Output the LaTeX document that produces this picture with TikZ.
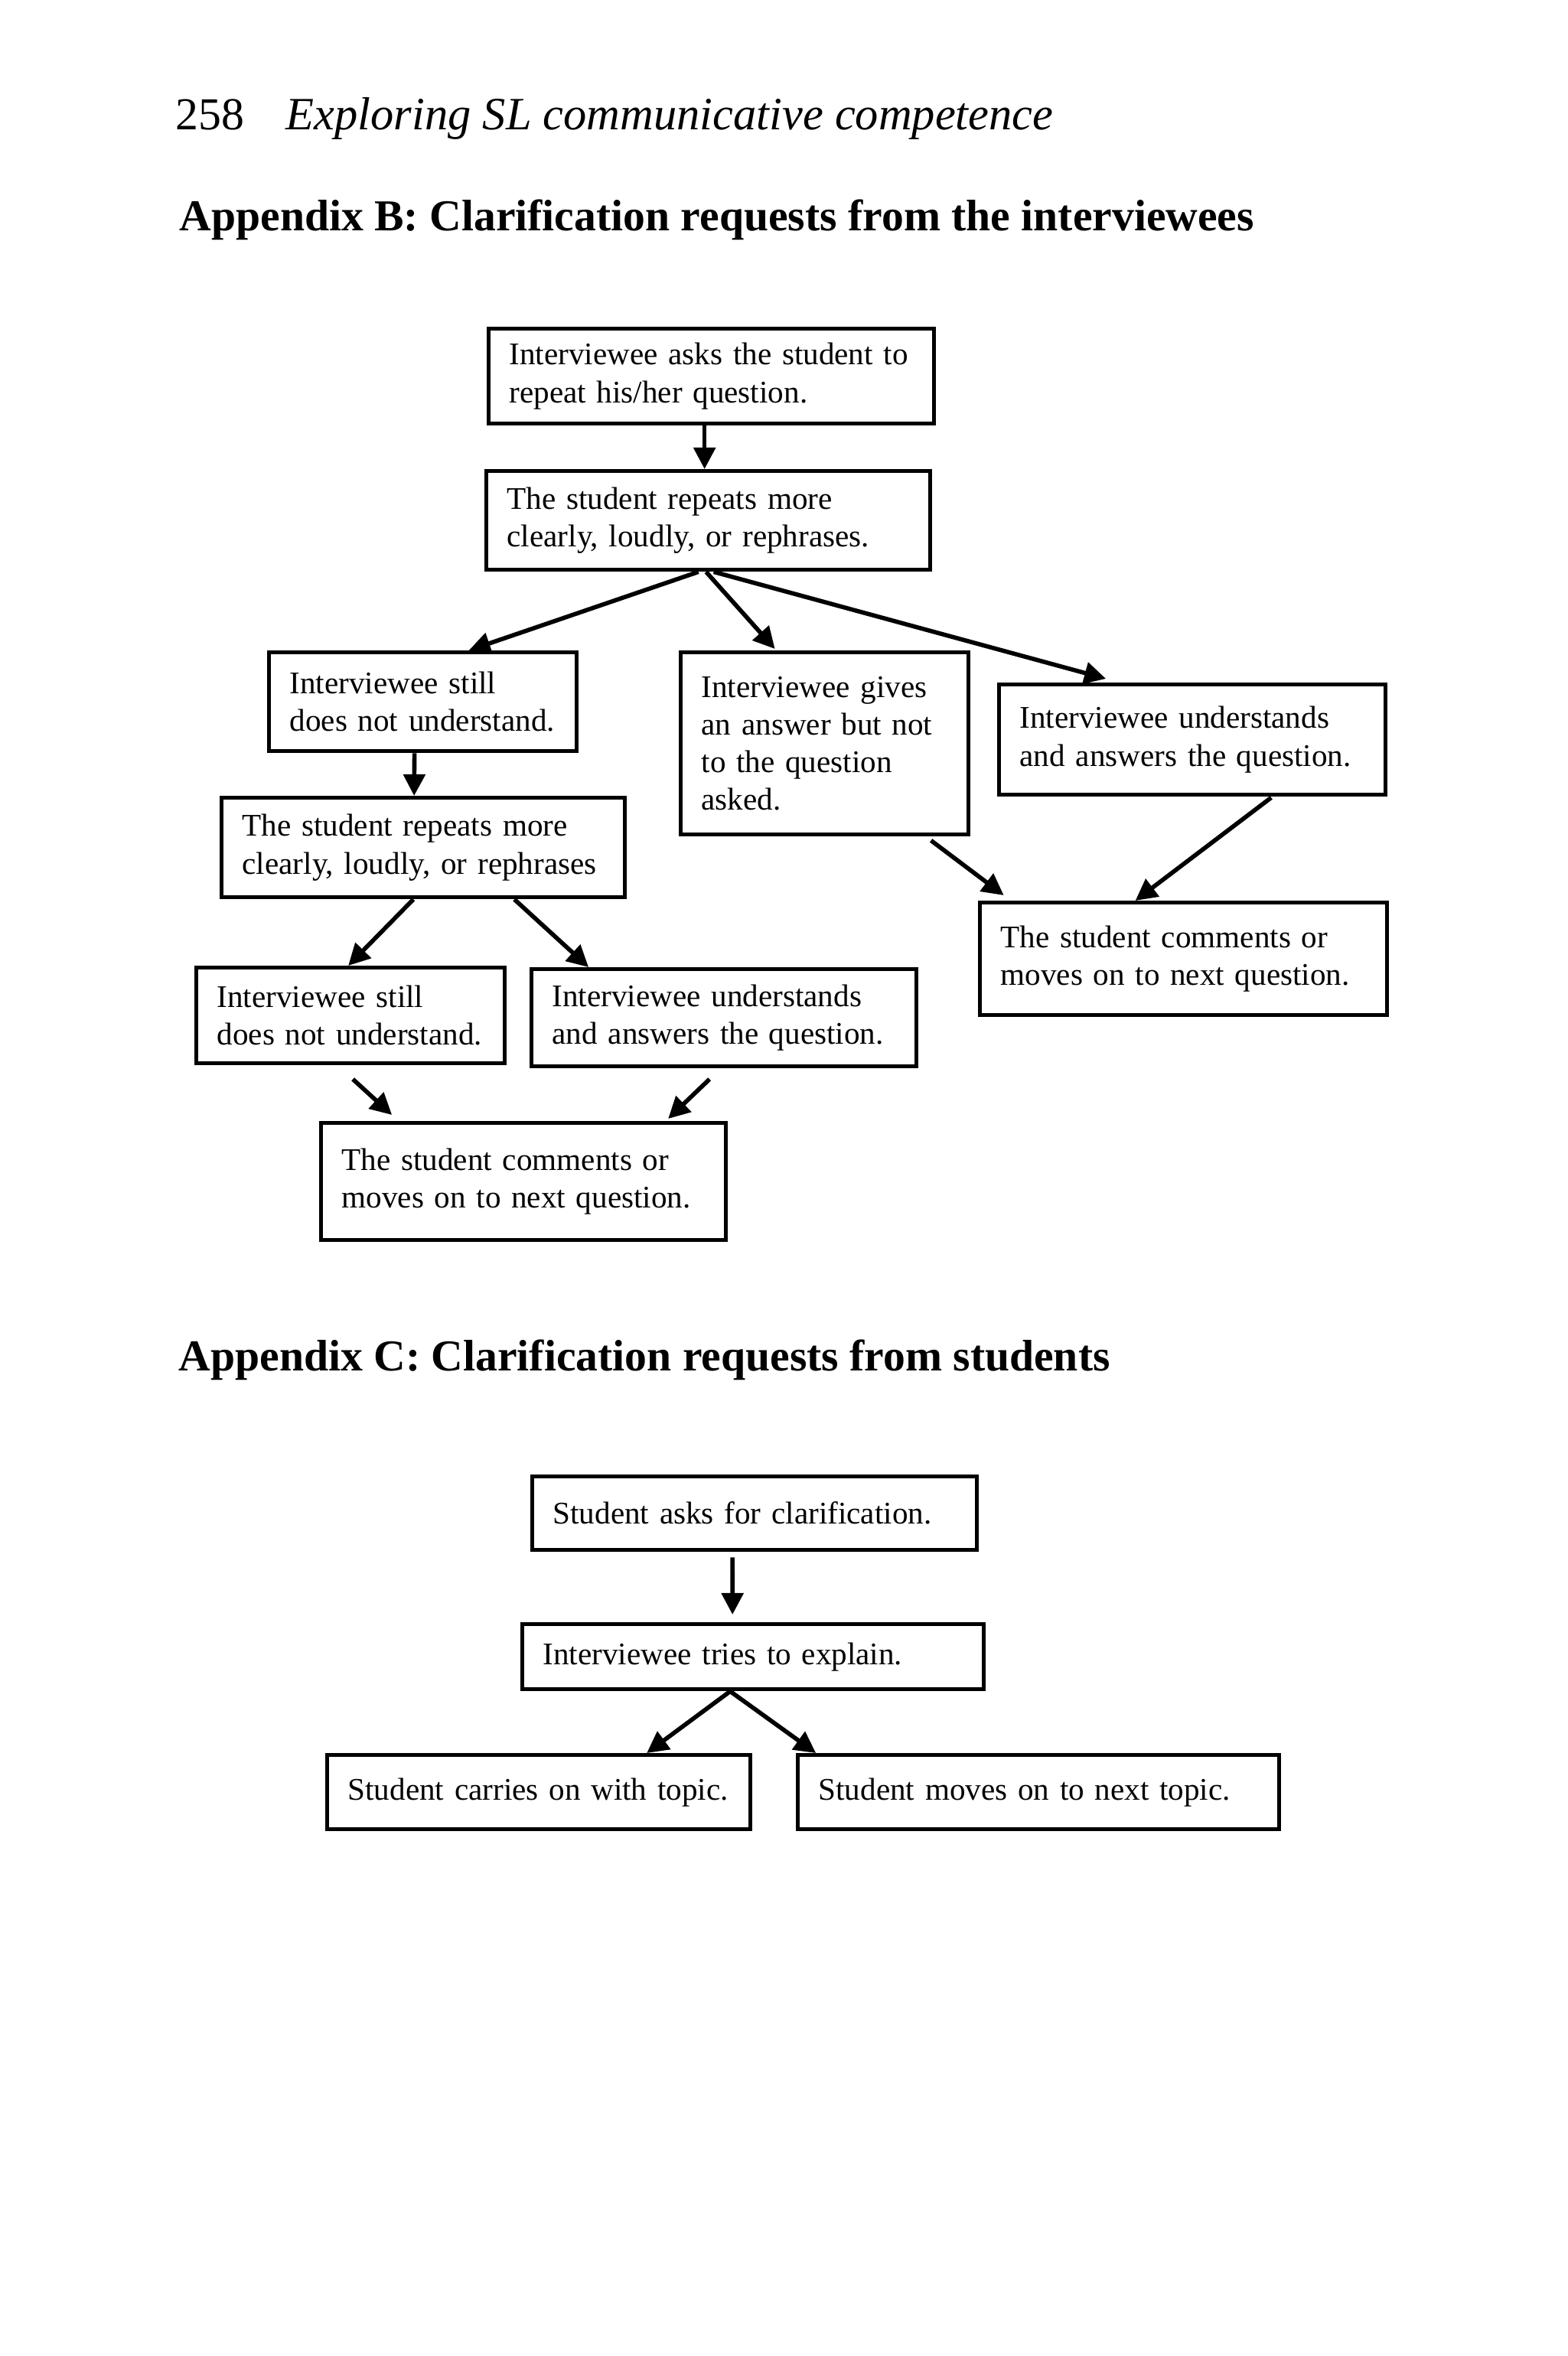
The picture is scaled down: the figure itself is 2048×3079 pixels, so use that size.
\documentclass[tikz,border=0pt]{standalone}
\usepackage{fontspec}
\setmainfont{Liberation Serif}
\usepackage{tikz}
\usetikzlibrary{arrows,arrows.meta,positioning}

\begin{document}
\begin{tikzpicture}[x=0.01cm, y=-0.01cm, >={Triangle[length=8pt, width=8pt]},
		box/.style={draw, line width=1.5pt, rectangle, anchor=north west, align=left,
			inner xsep=0.1cm, inner ysep=0pt, text width=#1cm-0.2cm-1.5pt,
			execute at begin node={\leftskip=0.17cm\hyphenpenalty=10000},
			font=\fontsize{11.7}{14}\selectfont},
		flow/.style={->, line width=1.6pt},
		head/.style={anchor=base west, inner sep=0pt}]
	\useasboundingbox (0,0) rectangle (2048,3079);
	% running head and titles
	\node[head, font=\fontsize{17}{20}\selectfont] (pagenum) at (229,170) {258};
	\node[head, font=\fontsize{17.2}{20}\selectfont\itshape] (runhead) at (373,170) {Exploring SL communicative competence};
	\node[head, font=\fontsize{16.4}{20}\selectfont\bfseries] (titleB) at (234,302) {Appendix B: Clarification requests from the interviewees};
	\node[head, font=\fontsize{16.4}{20}\selectfont\bfseries] (titleC) at (233,1791) {Appendix C: Clarification requests from students};

	% appendix B
	\node[box=5.87, minimum height=1.24cm] (asks) at (636,427) {Interviewee asks the student to\\repeat his/her question.};
	\node[box=5.85, minimum height=1.29cm] (repeats) at (633,613) {The student repeats more\\clearly, loudly, or rephrases.};
	\node[box=4.07, minimum height=1.29cm] (still) at (349,850) {Interviewee still\\does not understand.};
	\node[box=3.81, minimum height=2.38cm] (gives) at (887,850) {Interviewee gives\\an answer but not\\to the question\\asked.};
	\node[box=5.10, minimum height=1.44cm] (answers) at (1303,892) {Interviewee understands\\and answers the question.};
	\node[box=5.32, minimum height=1.30cm] (repeatsb) at (287,1040) {The student repeats more\\clearly, loudly, or rephrases};
	\node[box=5.37, minimum height=1.47cm] (comments) at (1278,1177) {The student comments or\\moves on to next question.};
	\node[box=4.08, minimum height=1.25cm] (stillb) at (254,1262) {Interviewee still\\does not understand.};
	\node[box=5.08, minimum height=1.27cm] (answersb) at (692,1264) {Interviewee understands\\and answers the question.};
	\node[box=5.34, minimum height=1.53cm] (commentsb) at (417,1465) {The student comments or\\moves on to next question.};

	\draw[flow] ([shift={(-9,0)}]asks.south) -- ([shift={(-5,0)}]repeats.north);
	\draw[flow] ([shift={(-13,0)}]repeats.south) -- ([shift={(60,0)}]still.north);
	\draw[flow] ([shift={(-3,0)}]repeats.south) -- ([shift={(-65,-2)}]gives.north);
	\draw[flow] ([shift={(7,0)}]repeats.south) -- ([shift={(-113,-5)}]answers.north);
	\draw[flow] ([shift={(-11,0)}]still.south) -- ([shift={(-12,0)}]repeatsb.north);
	\draw[flow] ([shift={(139,5)}]gives.south) -- ([shift={(-235,-7)}]comments.north);
	\draw[flow] ([shift={(103,1)}]answers.south) -- ([shift={(-63,0)}]comments.north);
	\draw[flow] ([shift={(-13,0)}]repeatsb.south) -- ([shift={(-3,0)}]stillb.north);
	\draw[flow] ([shift={(119,0)}]repeatsb.south) -- ([shift={(-177,0)}]answersb.north);
	\draw[flow] ([shift={(3,18)}]stillb.south) -- ([shift={(-172,-8)}]commentsb.north);
	\draw[flow] ([shift={(-19,14)}]answersb.south) -- ([shift={(189,-3)}]commentsb.north);

	% appendix C
	\node[box=5.86, minimum height=0.96cm] (clarify) at (693,1927) {Student asks for clarification.};
	\node[box=6.08, minimum height=0.85cm] (explain) at (680,2120) {Interviewee tries to explain.};
	\node[box=5.58, minimum height=0.97cm] (carries) at (425,2291) {Student carries on with topic.};
	\node[box=6.34, minimum height=0.97cm] (nexttopic) at (1040,2291) {Student moves on to next topic.};

	\draw[flow] ([shift={(-29,7)}]clarify.south) -- ([shift={(-27,-10)}]explain.north);
	\draw[flow] ([shift={(-30,0)}]explain.south) -- ([shift={(141,0)}]carries.north);
	\draw[flow] ([shift={(-30,0)}]explain.south) -- ([shift={(-291,0)}]nexttopic.north);
\end{tikzpicture}
\end{document}
